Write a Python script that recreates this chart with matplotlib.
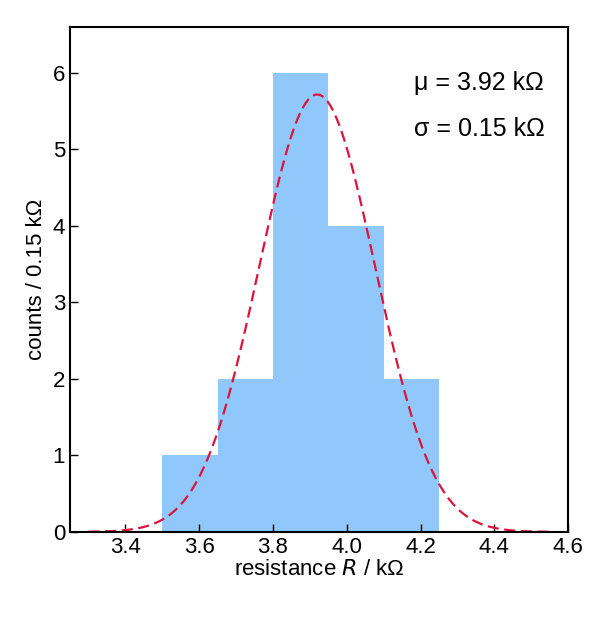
import numpy as np
import matplotlib
matplotlib.use("Agg")
import matplotlib.pyplot as plt

plt.rcParams['font.family'] = ['Liberation Sans', 'DejaVu Sans']

# histogram data
bin_edges = [3.5, 3.65, 3.8, 3.95, 4.1, 4.25]
counts = [1, 2, 6, 4, 2]
mu = 3.92
sigma = 0.157  # drawn curve width
bin_width = 0.15
n_total = sum(counts)

fig = plt.figure(figsize=(5.98, 6.28), dpi=100)
ax = fig.add_axes([0.117, 0.153, 0.833, 0.804])

ax.bar(bin_edges[:-1], counts, width=bin_width, align='edge',
       color='#90c8fb', edgecolor='none')

x = np.linspace(3.3, 4.55, 400)
y = n_total * bin_width / (sigma * np.sqrt(2 * np.pi)) * np.exp(-0.5 * ((x - mu) / sigma) ** 2)
ax.plot(x, y, '--', color='#dc143c', lw=1.6, dashes=(5, 2.5))

ax.set_xlim(3.25, 4.6)
ax.set_ylim(0, 6.6)
ax.set_xticks([3.4, 3.6, 3.8, 4.0, 4.2, 4.4, 4.6])
ax.set_yticks(range(7))
ax.tick_params(direction='in', labelsize=16, length=6, width=1)
for s in ax.spines.values():
    s.set_linewidth(1.5)

ax.set_xlabel('resistance $R$ / kΩ', fontsize=16, labelpad=1)
ax.set_ylabel('counts / 0.15 kΩ', fontsize=16, labelpad=4)

ax.text(0.69, 0.875, 'μ = 3.92 kΩ', transform=ax.transAxes, fontsize=18)
ax.text(0.69, 0.785, 'σ = 0.15 kΩ', transform=ax.transAxes, fontsize=18)

fig.savefig('out.png')
